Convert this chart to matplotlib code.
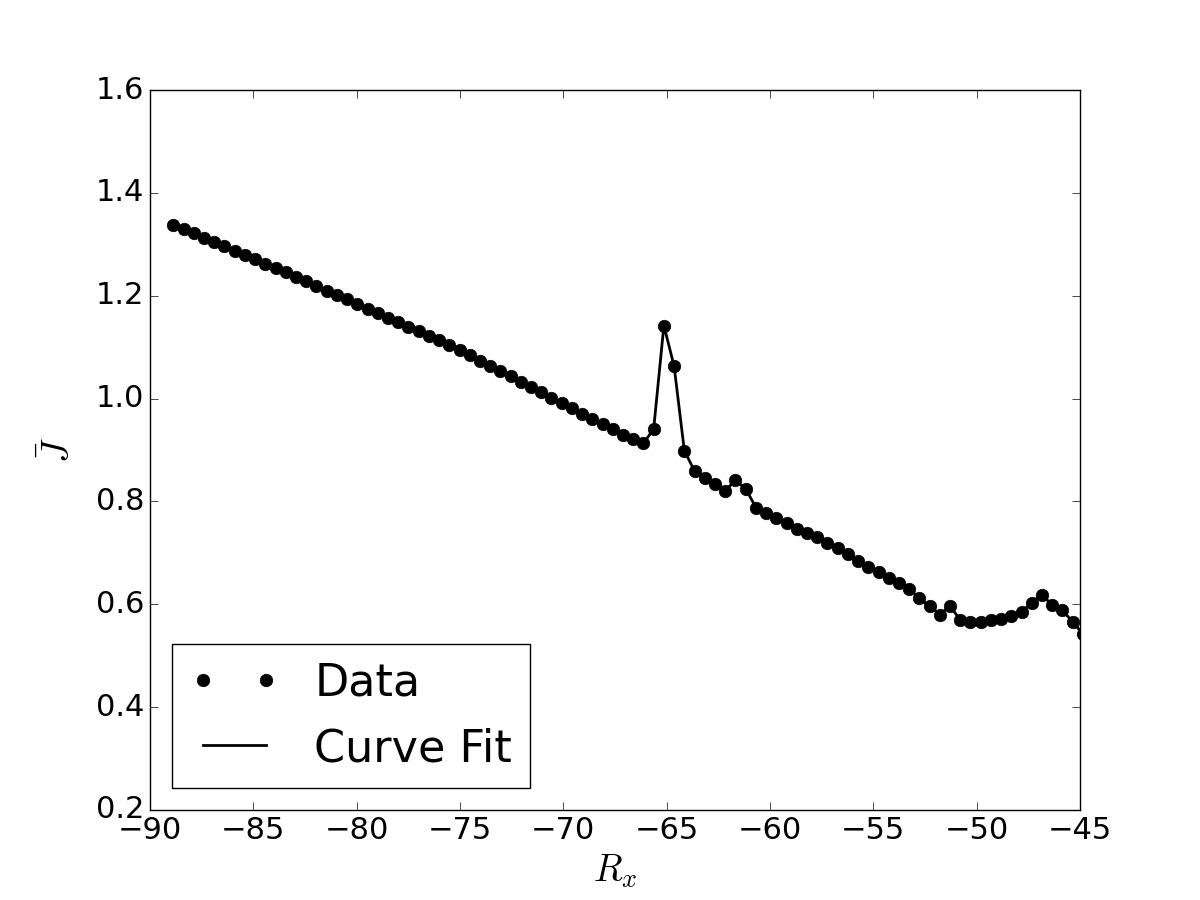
import matplotlib
matplotlib.use('Agg')
import matplotlib.pyplot as plt
import numpy as np

'''
Data read off the reference figure
'''
#sample grid of R_x (evenly spaced run values)
rx_first = -88.87
rx_last = -44.86
n_points = 90

#mean J at each R_x
j_data = [1.337, 1.329, 1.321, 1.312, 1.304, 1.296, 1.287, 1.279, 1.271, 1.262,
          1.254, 1.246, 1.237, 1.228, 1.219, 1.210, 1.201, 1.193, 1.184, 1.175,
          1.166, 1.157, 1.148, 1.140, 1.131, 1.122, 1.113, 1.104, 1.094, 1.084,
          1.074, 1.063, 1.053, 1.043, 1.032, 1.022, 1.012, 1.001, 0.991, 0.981,
          0.970, 0.960, 0.950, 0.940, 0.930, 0.921, 0.913, 0.941, 1.142, 1.063,
          0.899, 0.859, 0.845, 0.833, 0.821, 0.841, 0.825, 0.788, 0.777, 0.768,
          0.758, 0.747, 0.738, 0.731, 0.720, 0.709, 0.697, 0.684, 0.673, 0.662,
          0.651, 0.641, 0.629, 0.612, 0.596, 0.580, 0.597, 0.569, 0.566, 0.566,
          0.569, 0.572, 0.577, 0.585, 0.603, 0.619, 0.598, 0.588, 0.566, 0.542]

rx = np.linspace(rx_first, rx_last, n_points)

#old matplotlib look
plt.style.use('classic')

fig = plt.figure(figsize=(12, 9), dpi=100)
ax = fig.add_subplot(111)

ax.plot(rx, j_data, 'ko', markersize=9, markeredgecolor='k', label='Data')
ax.plot(rx, j_data, 'k-', linewidth=2, label='Curve Fit')

ax.set_xlim(-90, -45)
ax.set_ylim(0.2, 1.6)
ax.set_xticks(np.arange(-90, -44, 5))
ax.set_yticks(np.arange(0.2, 1.61, 0.2))
ax.tick_params(labelsize=22, length=6)

ax.set_xlabel(r'$R_x$', fontsize=27, labelpad=6)
ax.set_ylabel(r'$\bar{J}$', fontsize=27, labelpad=14)

ax.legend(loc='lower left', fontsize=32)

fig.savefig('out.png', dpi=100)
